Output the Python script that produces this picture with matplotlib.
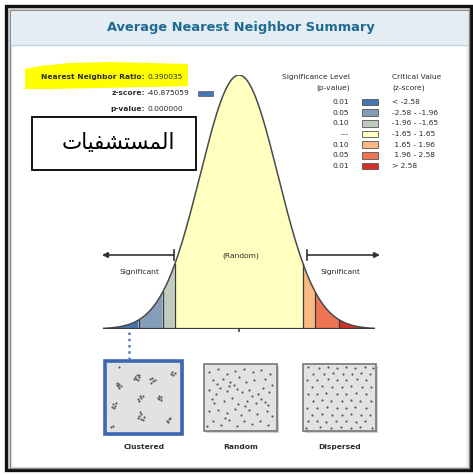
import numpy as np
import matplotlib
matplotlib.use("Agg")
import matplotlib.pyplot as plt
from matplotlib.patches import Rectangle, Polygon, FancyArrowPatch

# ---------------- data ----------------
title = "Average Nearest Neighbor Summary"
stat_labels = ["Nearest Neighbor Ratio:", "z-score:", "p-value:"]
stat_values = ["0.390035", "-40.875059", "0.000000"]
arabic_label = "المستشفيات"

z_breaks = [-3.5, -2.58, -1.96, -1.65, 1.65, 1.96, 2.58, 3.5]
bin_colors = ["#4575b5", "#849eba", "#c0ccbe", "#ffffbf", "#fab984", "#ed7551", "#d62f27"]
p_levels = ["0.01", "0.05", "0.10", "---", "0.10", "0.05", "0.01"]
crit_values = ["< -2.58", "-2.58 - -1.96", "-1.96 - -1.65", "-1.65 - 1.65",
               " 1.65 - 1.96", " 1.96 - 2.58", "> 2.58"]
marker_z = -2.84
pattern_names = ["Clustered", "Random", "Dispersed"]

clustered_pts = [
    (0.12, 0.27), (0.15, 0.29), (0.13, 0.32), (0.17, 0.33), (0.14, 0.35), (0.11, 0.31),
    (0.37, 0.18), (0.40, 0.16), (0.43, 0.19), (0.39, 0.22), (0.42, 0.23), (0.36, 0.22), (0.44, 0.16),
    (0.59, 0.22), (0.62, 0.20), (0.64, 0.25), (0.61, 0.27), (0.66, 0.23),
    (0.92, 0.10), (0.95, 0.13), (0.93, 0.16), (0.90, 0.14),
    (0.42, 0.52), (0.45, 0.48), (0.47, 0.51), (0.44, 0.55), (0.49, 0.47),
    (0.72, 0.47), (0.75, 0.49), (0.73, 0.53), (0.76, 0.54), (0.71, 0.51),
    (0.06, 0.60), (0.09, 0.63), (0.07, 0.66), (0.10, 0.59), (0.05, 0.64),
    (0.44, 0.79), (0.47, 0.76), (0.50, 0.80), (0.46, 0.83), (0.42, 0.82), (0.49, 0.84), (0.45, 0.73),
    (0.84, 0.86), (0.87, 0.83), (0.86, 0.88), (0.88, 0.81),
    (0.03, 0.96), (0.06, 0.94), (0.14, 0.03),
]
random_pts = [
    (0.05, 0.10), (0.18, 0.05), (0.30, 0.12), (0.42, 0.08), (0.55, 0.04), (0.68, 0.10), (0.80, 0.06), (0.93, 0.12),
    (0.10, 0.22), (0.16, 0.28), (0.24, 0.20), (0.35, 0.25), (0.40, 0.30), (0.48, 0.18), (0.58, 0.26), (0.70, 0.22),
    (0.85, 0.20), (0.95, 0.30), (0.04, 0.38), (0.20, 0.35), (0.30, 0.40), (0.45, 0.36), (0.52, 0.42), (0.63, 0.38),
    (0.75, 0.45), (0.83, 0.35), (0.92, 0.42), (0.08, 0.52), (0.12, 0.58), (0.26, 0.55), (0.38, 0.50), (0.47, 0.60),
    (0.60, 0.55), (0.72, 0.58), (0.80, 0.52), (0.90, 0.62), (0.05, 0.72), (0.18, 0.70), (0.30, 0.75), (0.42, 0.68),
    (0.50, 0.78), (0.62, 0.70), (0.74, 0.76), (0.88, 0.72), (0.95, 0.80), (0.10, 0.88), (0.22, 0.93), (0.34, 0.86),
    (0.45, 0.95), (0.55, 0.88), (0.66, 0.92), (0.78, 0.87), (0.90, 0.94), (0.02, 0.96), (0.15, 0.45), (0.67, 0.48),
    (0.33, 0.31), (0.57, 0.63), (0.28, 0.83), (0.85, 0.57),
]
dispersed_pts = [
    (0.05, 0.02), (0.20, 0.03), (0.33, 0.02), (0.47, 0.03), (0.60, 0.02), (0.73, 0.03), (0.87, 0.02), (0.98, 0.03),
    (0.12, 0.12), (0.27, 0.13), (0.40, 0.11), (0.55, 0.13), (0.68, 0.12), (0.81, 0.11), (0.94, 0.13),
    (0.03, 0.22), (0.18, 0.23), (0.33, 0.21), (0.47, 0.23), (0.60, 0.22), (0.75, 0.21), (0.89, 0.23),
    (0.10, 0.33), (0.25, 0.32), (0.39, 0.34), (0.53, 0.33), (0.67, 0.32), (0.82, 0.34), (0.96, 0.33),
    (0.04, 0.44), (0.17, 0.45), (0.31, 0.43), (0.46, 0.44), (0.60, 0.45), (0.74, 0.43), (0.88, 0.44),
    (0.11, 0.55), (0.25, 0.54), (0.38, 0.56), (0.53, 0.55), (0.67, 0.54), (0.80, 0.56), (0.95, 0.55),
    (0.03, 0.66), (0.18, 0.67), (0.32, 0.65), (0.46, 0.66), (0.60, 0.67), (0.73, 0.65), (0.88, 0.66),
    (0.10, 0.77), (0.24, 0.76), (0.39, 0.78), (0.53, 0.77), (0.66, 0.76), (0.81, 0.78), (0.94, 0.77),
    (0.04, 0.88), (0.17, 0.87), (0.31, 0.89), (0.45, 0.88), (0.59, 0.87), (0.74, 0.89), (0.87, 0.88),
    (0.02, 0.98), (0.22, 0.97), (0.37, 0.98), (0.52, 0.97), (0.66, 0.98), (0.80, 0.97), (0.97, 0.98),
]


# --------- minimal Arabic shaping (matplotlib has no shaping engine) ---------
FORMS = {  # isolated, final, initial, medial ; None => does not join to next
    "ا": ("\uFE8D", "\uFE8E", None, None),
    "ل": ("\uFEDD", "\uFEDE", "\uFEDF", "\uFEE0"),
    "م": ("\uFEE1", "\uFEE2", "\uFEE3", "\uFEE4"),
    "س": ("\uFEB1", "\uFEB2", "\uFEB3", "\uFEB4"),
    "ت": ("\uFE95", "\uFE96", "\uFE97", "\uFE98"),
    "ش": ("\uFEB5", "\uFEB6", "\uFEB7", "\uFEB8"),
    "ف": ("\uFED1", "\uFED2", "\uFED3", "\uFED4"),
    "ي": ("\uFEF1", "\uFEF2", "\uFEF3", "\uFEF4"),
}


def shape_arabic(s):
    out = []
    for i, ch in enumerate(s):
        f = FORMS[ch]
        prev_joins = i > 0 and FORMS[s[i - 1]][2] is not None
        next_joins = i < len(s) - 1 and f[2] is not None
        if prev_joins and next_joins:
            g = f[3]
        elif prev_joins:
            g = f[1]
        elif next_joins:
            g = f[2]
        else:
            g = f[0]
        out.append(g)
    return "".join(reversed(out))


# ---------------- figure ----------------
W, H = 473, 475
fig = plt.figure(figsize=(W / 100, H / 100), dpi=100)
fig.patch.set_facecolor("white")


def px_axes(z):
    a = fig.add_axes([0, 0, 1, 1], zorder=z)
    a.set_xlim(0, W)
    a.set_ylim(H, 0)
    a.axis("off")
    a.patch.set_alpha(0)
    return a


bg = px_axes(0)
# screenshot frame
bg.add_patch(Rectangle((0, 0), W, H, facecolor="white", edgecolor="none"))
for i, c in enumerate(["#d0d0d0", "#e0e0e0", "#ebebeb", "#f5f5f5"]):
    bg.add_patch(Rectangle((9 + i, 9 + i), 461 - 2 * i, 461 - 2 * i, fill=False, edgecolor=c, lw=1.2))
bg.add_patch(Rectangle((6, 6), 465, 464, fill=False, edgecolor="#111111", lw=2.4))
bg.add_patch(Rectangle((9.5, 9.5), 459, 458, fill=False, edgecolor="#8a8a8a", lw=1.0))
# title band
bg.add_patch(Rectangle((11, 11), 457, 34, facecolor="#e3edf3", edgecolor="none"))
bg.plot([11, 468], [45, 45], color="#c5d2da", lw=1.0)
bg.text(241, 28, title, ha="center", va="center", fontsize=9.4, fontweight="bold", color="#1f6a93")

# yellow highlight
hl = [(25, 69), (40, 66), (70, 63), (110, 62), (150, 63), (188, 64), (188, 86), (150, 87), (100, 88), (50, 89), (25, 89)]
bg.add_patch(Polygon(hl, closed=True, facecolor="#ffff00", edgecolor="none"))

# ---------------- bell curve ----------------
x_left, x_right = 103, 375
y_base, y_peak = 329, 75
bell = fig.add_axes([x_left / W, (H - y_base) / H, (x_right - x_left) / W, (y_base - y_peak) / H], zorder=1)
bell.patch.set_alpha(0)
bell.axis("off")
bell.set_xlim(z_breaks[0], z_breaks[-1])
bell.set_ylim(0, 1)

zz = np.linspace(z_breaks[0], z_breaks[-1], 600)
dens = np.exp(-zz ** 2 / 2)
for k in range(len(bin_colors)):
    m = (zz >= z_breaks[k]) & (zz <= z_breaks[k + 1])
    bell.fill_between(zz[m], 0, dens[m], facecolor=bin_colors[k], edgecolor="none", zorder=1)
for zb in z_breaks[1:-1]:
    bell.plot([zb, zb], [0, np.exp(-zb ** 2 / 2)], color="#3a3a3a", lw=0.9, zorder=2)
bell.plot(zz, dens, color="#4a4a4a", lw=1.1, zorder=3)
bell.plot([z_breaks[0], z_breaks[-1]], [0, 0], color="#3a3a3a", lw=1.6, zorder=4, solid_capstyle="butt")
bell.plot([0, 0], [0, -0.008], color="#3a3a3a", lw=1.2, clip_on=False)
# dotted marker down to the clustered panel
bell.plot([marker_z, marker_z], [-0.01, -0.12], color="#5a7fb5", lw=1.8, ls=(0, (1, 1.5)), clip_on=False, zorder=5)

# ---------------- foreground ----------------
fg = px_axes(2)
lab_kw = dict(fontsize=5.4, color="#2b2b2b")
# stats
stat_y = [77, 93, 109]
for lab, val, y in zip(stat_labels, stat_values, stat_y):
    fg.text(145, y, lab, ha="right", va="center", fontweight="bold", **lab_kw)
    fg.text(147, y, val, ha="left", va="center", **lab_kw)
fg.add_patch(Rectangle((198, 90.5), 15, 5, facecolor=bin_colors[0], edgecolor="#444444", lw=0.4))

# arabic box
fg.add_patch(Rectangle((32, 117), 164, 53, facecolor="white", edgecolor="black", lw=1.3))
fg.text(118, 143, shape_arabic(arabic_label), ha="center", va="center", fontsize=15.5,
        family=["DejaVu Sans"], color="black")

# legend
fg.text(350, 77, "Significance Level", ha="right", va="center", **lab_kw)
fg.text(350, 88, "(p-value)", ha="right", va="center", **lab_kw)
fg.text(392, 77, "Critical Value", ha="left", va="center", **lab_kw)
fg.text(392, 88, "(z-score)", ha="left", va="center", **lab_kw)
row_y = [102, 112.7, 123.3, 134, 144.7, 155.3, 166]
for p, c, cv, y in zip(p_levels, bin_colors, crit_values, row_y):
    fg.text(349, y, p, ha="right", va="center", **lab_kw)
    fg.add_patch(Rectangle((362, y - 3.3), 16, 6.6, facecolor=c, edgecolor="#555555", lw=0.6))
    fg.text(392, y, cv, ha="left", va="center", **lab_kw)

# significance arrows
fg.add_patch(FancyArrowPatch((174, 255), (102, 255), arrowstyle="-|>", mutation_scale=8,
                             color="#333333", lw=1.2, shrinkA=0, shrinkB=0))
fg.plot([174, 174], [250, 260], color="#333333", lw=1.2)
fg.add_patch(FancyArrowPatch((307, 255), (380, 255), arrowstyle="-|>", mutation_scale=8,
                             color="#333333", lw=1.2, shrinkA=0, shrinkB=0))
fg.plot([307, 307], [250, 260], color="#333333", lw=1.2)
fg.text(139, 272, "Significant", ha="center", va="center", **lab_kw)
fg.text(340, 272, "Significant", ha="center", va="center", **lab_kw)
fg.text(241, 256, "(Random)", ha="center", va="center", **lab_kw)

# pattern panels
boxes = [(105, 361, 77, 73), (204, 364, 73, 67), (303, 364, 73, 67)]
pts_sets = [clustered_pts, random_pts, dispersed_pts]
label_x = [144, 241, 340]
for i, ((bx, by, bw, bh), pts, name, lx) in enumerate(zip(boxes, pts_sets, pattern_names, label_x)):
    fg.add_patch(Rectangle((bx + 2, by + 2), bw, bh, facecolor="#d0d0d0", edgecolor="none"))
    if i == 0:
        fg.add_patch(Rectangle((bx, by), bw, bh, facecolor="#e2e2e2", edgecolor="#3b68b0", lw=2.6))
        pad = 4
    else:
        fg.add_patch(Rectangle((bx, by), bw, bh, facecolor="#e2e2e2", edgecolor="#777777", lw=1.2))
        pad = 2
    arr = np.array(pts)
    fg.scatter(bx + pad + arr[:, 0] * (bw - 2 * pad), by + pad + arr[:, 1] * (bh - 2 * pad),
               s=2.4, color="#555555", linewidths=0, zorder=5)
    fg.text(lx, 447, name, ha="center", va="center", fontweight="bold", **lab_kw)

fig.savefig("out.png", dpi=100)
